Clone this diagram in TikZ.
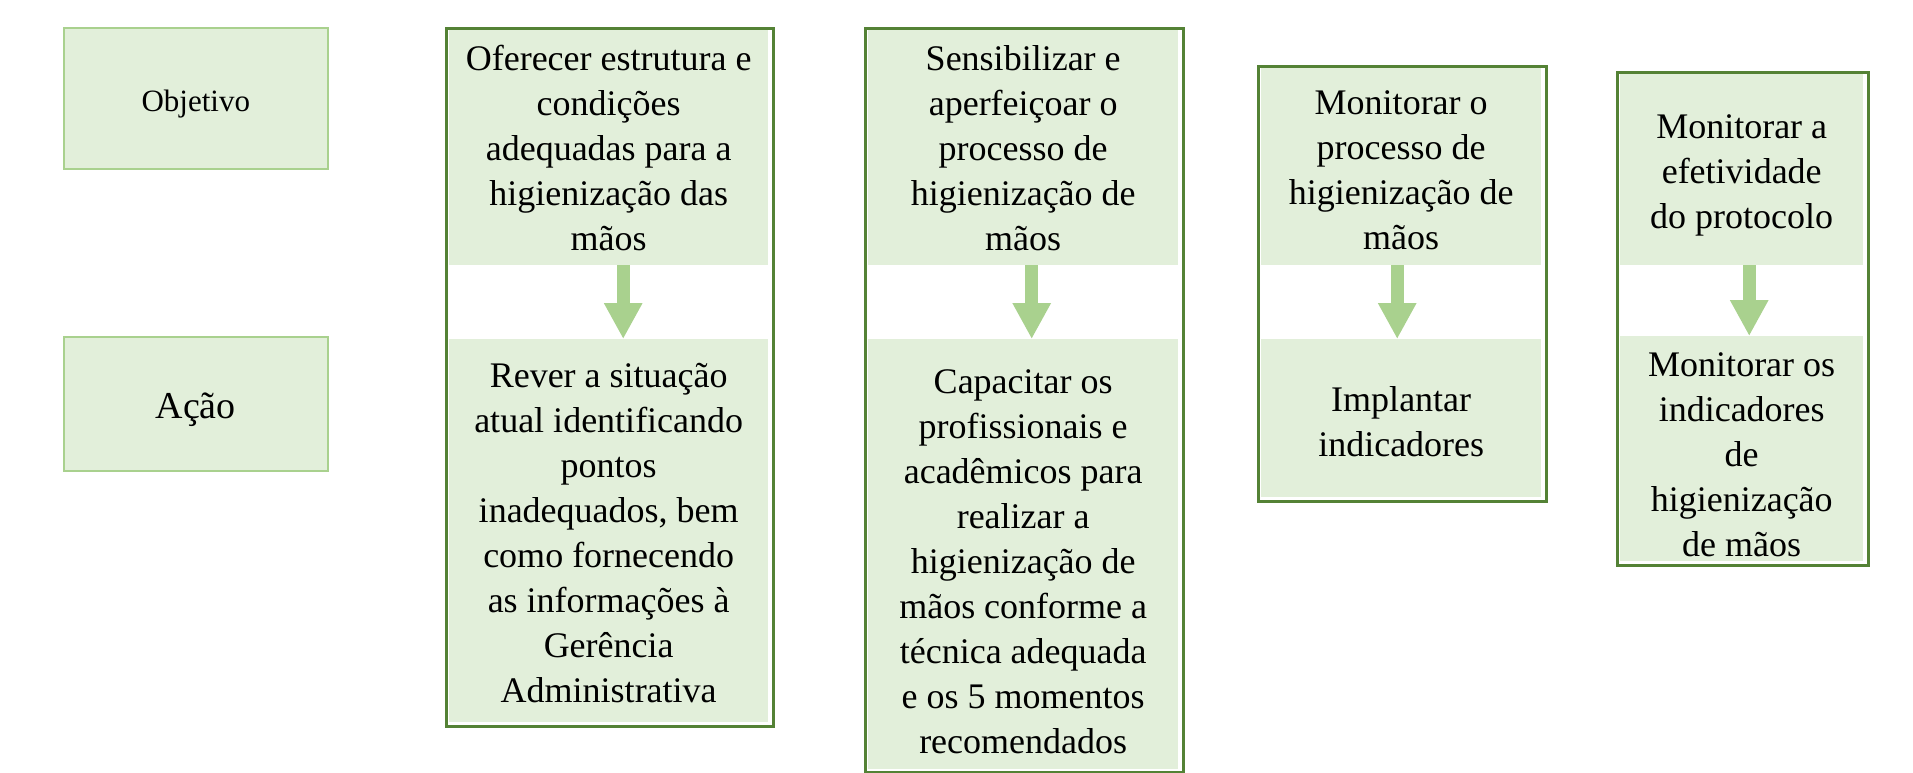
\documentclass[tikz,border=0pt]{standalone}
\usepackage{fontspec}
\setmainfont{Liberation Serif}
\usetikzlibrary{arrows.meta}
\definecolor{fillg}{HTML}{E2EFDA}
\definecolor{frameg}{HTML}{548235}
\definecolor{lightg}{HTML}{A9D18E}
\begin{document}
\begin{tikzpicture}[x=1pt,y=-1pt,
  labelbox/.style={draw=lightg, line width=1.5pt, fill=fillg, anchor=north west, inner sep=0pt},
  band/.style={fill=fillg, anchor=north west, inner sep=0pt},
  txt/.style={align=center, inner sep=0pt, font=\fontsize{36}{45}\selectfont},
  frame/.style={draw=frameg, line width=2.5pt, anchor=north west, inner sep=0pt},
  flow/.style={lightg, line width=13pt, -{Triangle[width=36pt,length=36pt]}}]
\useasboundingbox (0,0) rectangle (1913,772);

% row labels
\node[labelbox, minimum width=264pt, minimum height=141pt] (obj) at (63,27) {};
\node[txt, font=\fontsize{31}{38}\selectfont] (tobj) at ([yshift=-6pt]obj.center) {Objetivo};
\node[labelbox, minimum width=264pt, minimum height=134pt] (acao) at (63,336) {};
\node[txt, font=\fontsize{38}{45}\selectfont] (tacao) at ([yshift=-6pt]acao.center) {Ação};

% column 1
\node[band, minimum width=319pt, minimum height=235pt] (o1) at (449,30) {};
\node[txt] (to1) at (o1.center) {Oferecer estrutura e\\condições\\adequadas para a\\higienização das\\mãos};
\node[band, minimum width=319pt, minimum height=383pt] (a1) at (449,339) {};
\node[txt] (ta1) at ([yshift=-2pt]a1.center) {Rever a situação\\atual identificando\\pontos\\inadequados, bem\\como fornecendo\\as informações à\\Gerência\\Administrativa};
\node[frame, minimum width=327pt, minimum height=698pt] (c1) at (445,27) {};
\draw[flow] ([xshift=14.5pt]o1.south) -- ([xshift=14.5pt]a1.north);

% column 2
\node[band, minimum width=310pt, minimum height=235pt] (o2) at (868,30) {};
\node[txt] (to2) at (o2.center) {Sensibilizar e\\aperfeiçoar o\\processo de\\higienização de\\mãos};
\node[band, minimum width=310pt, minimum height=430pt] (a2) at (868,339) {};
\node[txt] (ta2) at ([yshift=-8pt]a2.center) {Capacitar os\\profissionais e\\acadêmicos para\\realizar a\\higienização de\\mãos conforme a\\técnica adequada\\e os 5 momentos\\recomendados};
\node[frame, minimum width=318pt, minimum height=744pt] (c2) at (864,27) {};
\draw[flow] ([xshift=8.5pt]o2.south) -- ([xshift=8.5pt]a2.north);

% column 3
\node[band, minimum width=280pt, minimum height=197pt] (o3) at (1261,68) {};
\node[txt] (to3) at ([yshift=-3.5pt]o3.center) {Monitorar o\\processo de\\higienização de\\mãos};
\node[band, minimum width=280pt, minimum height=158pt] (a3) at (1261,339) {};
\node[txt] (ta3) at ([yshift=-3pt]a3.center) {Implantar\\indicadores};
\node[frame, minimum width=288pt, minimum height=435pt] (c3) at (1257,65) {};
\draw[flow] ([xshift=-4pt]o3.south) -- ([xshift=-4pt]a3.north);

% column 4
\node[band, minimum width=243pt, minimum height=191pt] (o4) at (1620,74) {};
\node[txt] (to4) at ([yshift=-5.5pt]o4.center) {Monitorar a\\efetividade\\do protocolo};
\node[band, minimum width=243pt, minimum height=225pt] (a4) at (1620,336) {};
\node[txt] (ta4) at ([yshift=-6pt]a4.center) {Monitorar os\\indicadores\\de\\higienização\\de mãos};
\node[frame, minimum width=251pt, minimum height=493pt] (c4) at (1616,71) {};
\draw[flow] ([xshift=7.5pt]o4.south) -- ([xshift=7.5pt]a4.north);
\end{tikzpicture}
\end{document}
